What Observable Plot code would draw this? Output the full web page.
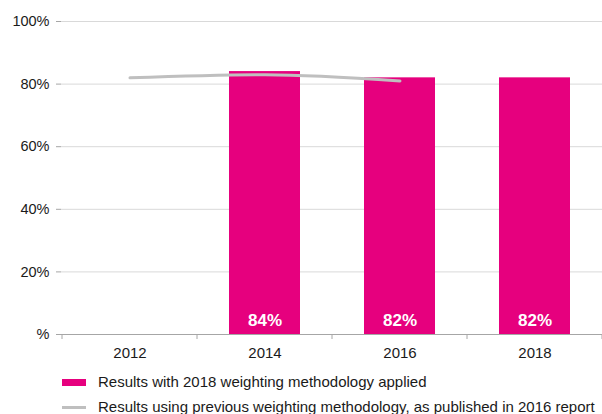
<!DOCTYPE html>
<html>
<head>
<meta charset="utf-8">
<script src="https://cdn.jsdelivr.net/npm/d3@7"></script>
<script src="https://cdn.jsdelivr.net/npm/@observablehq/plot@0.6"></script>
<style>
  html, body { margin: 0; padding: 0; background: #fff; }
  body { width: 602px; height: 414px; overflow: hidden; font-family: "Liberation Sans", Arial, sans-serif; color: #1a1a1a; }
  #legend { position: relative; height: 51px; font-size: 15px; }
  .item { position: absolute; left: 62px; height: 18px; line-height: 18px; display: flex; align-items: center; white-space: nowrap; }
  .sw { width: 24px; margin-right: 12px; }
</style>
</head>
<body>
<div id="chart"></div>
<div id="legend">
  <div class="item" style="top:10px"><span class="sw" style="height:7px;background:#e6007e"></span>Results with 2018 weighting methodology applied</div>
  <div class="item" style="top:35px"><span class="sw" style="height:3px;background:#bfbfbf"></span>Results using previous weighting methodology, as published in 2016 report</div>
</div>
<script>
// Survey years on the x axis
const years = ["2012", "2014", "2016", "2018"];

// Results with the 2018 weighting methodology (%)
const newYears = ["2014", "2016", "2018"];
const newValues = [84, 82, 82];

// Results as published in the 2016 report (%)
const oldYears = ["2012", "2014", "2016"];
const oldValues = [82, 83, 81];

// Y axis ticks
const yTicks = [0, 20, 40, 60, 80, 100];

const bars = newYears.map((y, i) => ({year: y, value: newValues[i]}));
const line = oldYears.map((y, i) => ({year: y, value: oldValues[i]}));

const magenta = "#e6007e";
const grey = "#bfbfbf";

const plot = Plot.plot({
  width: 602,
  height: 363,
  marginTop: 21,
  marginBottom: 29,
  marginLeft: 61,
  marginRight: 0,
  style: {fontFamily: "Liberation Sans, Arial, sans-serif", fontSize: "15px", color: "#1a1a1a"},
  x: {domain: years, padding: 0, label: null},
  y: {domain: [0, 100], label: null},
  marks: [
    Plot.ruleY(yTicks.filter(d => d > 0), {stroke: "#d9d9d9", strokeWidth: 1}),
    Plot.barY(bars, {x: "year", y: "value", fill: magenta, insetLeft: 32, insetRight: 32}),
    Plot.line(line, {x: "year", y: "value", stroke: grey, strokeWidth: 3, curve: "monotone-x"}),
    Plot.text(bars, {x: "year", y: 0, text: d => d.value + "%", dy: -14, fill: "white",
      fontWeight: "bold", fontSize: 17}),
    Plot.ruleX([0], {frameAnchor: "left", stroke: "#a6a6a6"}),
    Plot.ruleY([0], {stroke: "#a6a6a6"}),
    Plot.axisY({ticks: yTicks, tickSize: 5, tickPadding: 7, stroke: "#a6a6a6",
      tickFormat: d => d === 0 ? "%" : d + "%", fill: "#1a1a1a", fontSize: 14.5}),
    Plot.axisX({tickSize: 0, tickPadding: 13, fill: "#1a1a1a", fontSize: 15})
  ]
});

document.getElementById("chart").appendChild(plot);

// Separator ticks between the year bands, below the x axis
const xs = plot.scale("x");
const yBase = plot.scale("y").apply(0);
const bounds = years.map(y => xs.apply(y)).concat([xs.apply(years[years.length - 1]) + xs.step]);
d3.select(plot).append("g")
  .attr("stroke", "#a6a6a6")
  .selectAll("line")
  .data(bounds)
  .join("line")
  .attr("x1", d => d).attr("x2", d => d)
  .attr("y1", yBase).attr("y2", yBase + 5);
</script>
</body>
</html>
